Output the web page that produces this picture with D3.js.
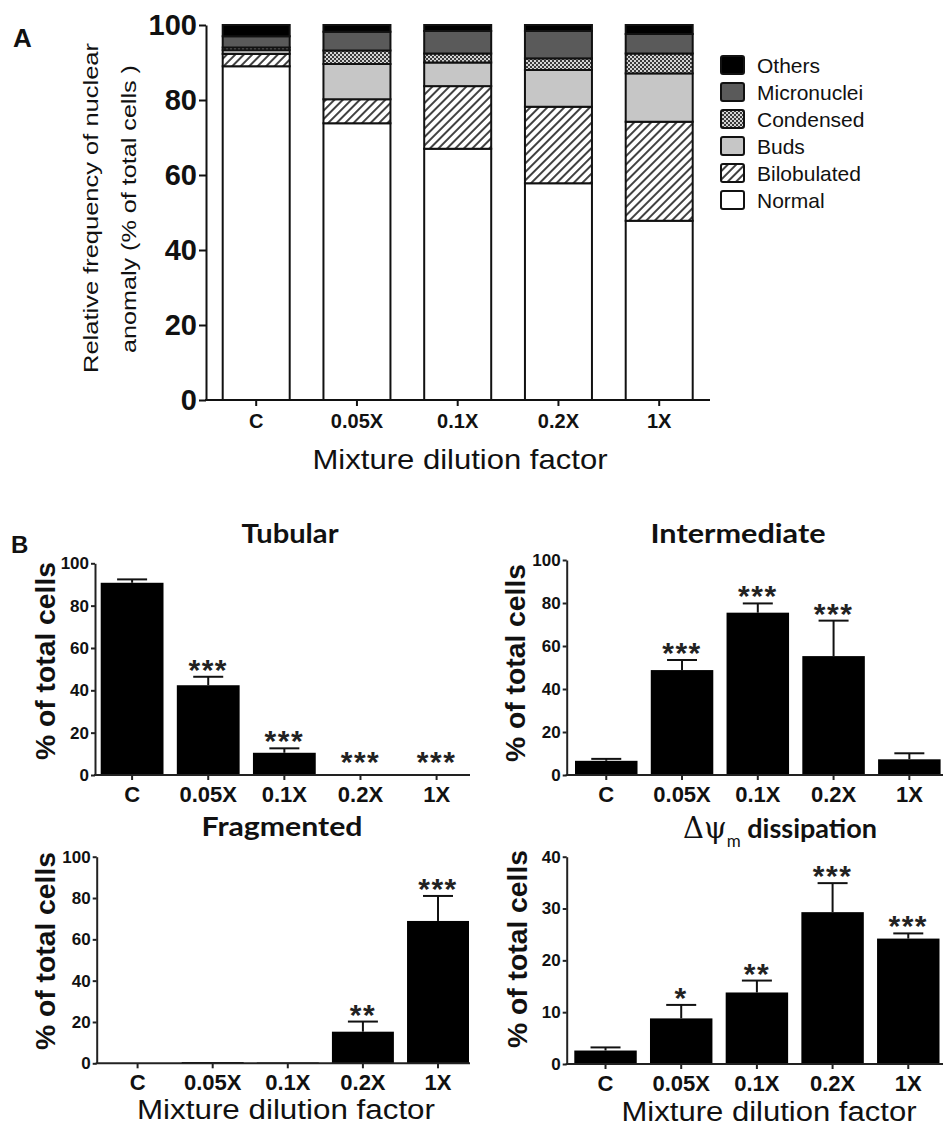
<!DOCTYPE html>
<html><head><meta charset="utf-8">
<script src="https://cdn.jsdelivr.net/npm/d3@7"></script>
<style>body{margin:0;background:#fff} svg{display:block}</style>
</head><body>
<svg id="chart" width="943" height="1128"></svg>
<script>
// ---------- Data ----------
const categories = ["C", "0.05X", "0.1X", "0.2X", "1X"];
const anomalyTypes = ["Normal", "Bilobulated", "Buds", "Condensed", "Micronuclei", "Others"];
const normal      = [89.0, 73.8, 67.0, 57.8, 47.8];
const bilobulated = [3.3, 6.4, 16.7, 20.4, 26.4];
const buds        = [1.0, 9.4, 6.3, 9.8, 12.9];
const condensed   = [0.7, 3.6, 2.4, 3.1, 5.3];
const micronuclei = [3.0, 5.0, 6.0, 7.3, 5.2];
const others      = [3.0, 1.8, 1.6, 1.6, 2.4];
const ticksA = [0, 20, 40, 60, 80, 100];

const tubularMean = [90.8, 42.4, 10.5, 0, 0];
const tubularErr  = [1.6, 4.0, 2.1, 0, 0];
const tubularSig  = ["", "***", "***", "***", "***"];
const intermediateMean = [6.6, 48.8, 75.5, 55.3, 7.3];
const intermediateErr  = [0.9, 4.7, 4.3, 16.5, 2.8];
const intermediateSig  = ["", "***", "***", "***", ""];
const fragmentedMean = [0, 0.6, 0.4, 15.3, 68.9];
const fragmentedErr  = [0, 0.2, 0.1, 4.9, 12.1];
const fragmentedSig  = ["", "", "", "**", "***"];
const dissipationMean = [2.6, 8.8, 13.8, 29.3, 24.2];
const dissipationErr  = [0.6, 2.6, 2.3, 5.6, 1.0];
const dissipationSig  = ["", "*", "**", "***", "***"];
const ticksPercent = [0, 20, 40, 60, 80, 100];
const ticksDissipation = [0, 10, 20, 30, 40];

// ---------- Setup ----------
const svg = d3.select("#chart");
const defs = svg.append("defs");
const hatch = defs.append("pattern").attr("id", "hatch")
  .attr("patternUnits", "userSpaceOnUse").attr("width", 6).attr("height", 6)
  .attr("patternTransform", "rotate(45)");
hatch.append("rect").attr("width", 6).attr("height", 6).attr("fill", "#fff");
hatch.append("line").attr("x1", 1).attr("y1", 0).attr("x2", 1).attr("y2", 6)
  .attr("stroke", "#111").attr("stroke-width", 1.6);
const check = defs.append("pattern").attr("id", "check")
  .attr("patternUnits", "userSpaceOnUse").attr("width", 4).attr("height", 4);
check.append("rect").attr("width", 4).attr("height", 4).attr("fill", "#d4d4d4");
check.append("rect").attr("width", 2).attr("height", 2).attr("fill", "#3a3a3a");
check.append("rect").attr("x", 2).attr("y", 2).attr("width", 2).attr("height", 2).attr("fill", "#3a3a3a");

const fills = {
  Normal: "#ffffff", Bilobulated: "url(#hatch)", Buds: "#c6c6c6",
  Condensed: "url(#check)", Micronuclei: "#5a5a5a", Others: "#000000"
};
const seriesByType = {
  Normal: normal, Bilobulated: bilobulated, Buds: buds,
  Condensed: condensed, Micronuclei: micronuclei, Others: others
};

// ---------- Panel A ----------
const rowsA = categories.map((c, i) => {
  const r = { cat: c };
  anomalyTypes.forEach(k => r[k] = seriesByType[k][i]);
  return r;
});
const stacked = d3.stack().keys(anomalyTypes)(rowsA);
const xA = d3.scaleBand().domain(categories).range([222.7, 692.7]).paddingInner(0.335).paddingOuter(0);
const yA = d3.scaleLinear().domain([0, 100]).range([400, 25]);
const gA = svg.append("g");

stacked.forEach(layer => {
  gA.append("g").selectAll("rect").data(layer).join("rect")
    .attr("x", d => xA(d.data.cat))
    .attr("y", d => yA(d[1]))
    .attr("width", xA.bandwidth())
    .attr("height", d => yA(d[0]) - yA(d[1]))
    .attr("fill", fills[layer.key])
    .attr("stroke", "#111").attr("stroke-width", 2);
});

const yAxisA = gA.append("g").attr("transform", "translate(206,0)")
  .call(d3.axisLeft(yA).tickValues(ticksA).tickSize(7).tickPadding(2).tickSizeOuter(0));
yAxisA.selectAll("path,line").attr("stroke", "#111").attr("stroke-width", 2);
yAxisA.selectAll("text").attr("font-family", "Arial, 'Liberation Sans', sans-serif")
  .attr("font-weight", "bold").attr("font-size", 29).attr("fill", "#111");

const xAxisA = gA.append("g").attr("transform", "translate(0,400)")
  .call(d3.axisBottom(xA).tickSize(6).tickPadding(8).tickSizeOuter(0));
xAxisA.select(".domain").remove();
xAxisA.selectAll("line").attr("stroke", "#111").attr("stroke-width", 2);
xAxisA.selectAll("text").attr("font-family", "Arial, 'Liberation Sans', sans-serif")
  .attr("font-weight", "bold").attr("font-size", 20).attr("fill", "#111");
gA.append("line").attr("x1", 205).attr("x2", 710).attr("y1", 400).attr("y2", 400)
  .attr("stroke", "#111").attr("stroke-width", 2);

gA.append("text").attr("x", 460).attr("y", 469).attr("text-anchor", "middle")
  .attr("font-family", "Arial, 'Liberation Sans', sans-serif").attr("font-size", 28)
  .attr("textLength", 295).attr("lengthAdjust", "spacingAndGlyphs").attr("fill", "#111")
  .text("Mixture dilution factor");

const yt = gA.append("g").attr("font-family", "Arial, 'Liberation Sans', sans-serif")
  .attr("font-size", 20).attr("fill", "#111").attr("text-anchor", "middle");
yt.append("text").attr("transform", "translate(98,208) rotate(-90)")
  .attr("textLength", 330).attr("lengthAdjust", "spacingAndGlyphs")
  .text("Relative frequency of nuclear");
yt.append("text").attr("transform", "translate(136,209) rotate(-90)")
  .attr("textLength", 288).attr("lengthAdjust", "spacingAndGlyphs")
  .text("anomaly (% of total cells )");

svg.append("text").attr("x", 13).attr("y", 47).attr("font-family", "Arial, 'Liberation Sans', sans-serif")
  .attr("font-weight", "bold").attr("font-size", 26).attr("fill", "#111").text("A");

// legend
const legendKeys = anomalyTypes.slice().reverse();
const leg = svg.append("g");
legendKeys.forEach((k, i) => {
  const cy = 65 + i * 27;
  leg.append("rect").attr("x", 721).attr("y", cy - 9).attr("width", 23).attr("height", 18)
    .attr("rx", 2).attr("fill", fills[k]).attr("stroke", "#111").attr("stroke-width", 2);
  leg.append("text").attr("x", 757).attr("y", cy + 7.5)
    .attr("font-family", "Arial, 'Liberation Sans', sans-serif").attr("font-size", 21)
    .attr("fill", "#111").text(k);
});

// ---------- Panel B ----------
svg.append("text").attr("x", 11).attr("y", 553).attr("font-family", "Arial, 'Liberation Sans', sans-serif")
  .attr("font-weight", "bold").attr("font-size", 24).attr("fill", "#111").text("B");

const panels = [
  { mean: tubularMean, err: tubularErr, sig: tubularSig, ticks: ticksPercent, max: 100,
    axisX: 95, axisEnd: 470, bandRange: [100.7, 468], y0: 775, yMax: 563.3,
    title: "Tubular", titleX: 290, titleY: 543, titleW: 97,
    yTitleX: 55, yTitleY: 661, xTitle: null },
  { mean: intermediateMean, err: intermediateErr, sig: intermediateSig, ticks: ticksPercent, max: 100,
    axisX: 566.7, axisEnd: 943, bandRange: [575, 940.6], y0: 775, yMax: 560,
    title: "Intermediate", titleX: 738, titleY: 543, titleW: 175,
    yTitleX: 525, yTitleY: 663, xTitle: null },
  { mean: fragmentedMean, err: fragmentedErr, sig: fragmentedSig, ticks: ticksPercent, max: 100,
    axisX: 96.7, axisEnd: 470, bandRange: [106.6, 469], y0: 1063.3, yMax: 856.7,
    title: "Fragmented", titleX: 282, titleY: 836, titleW: 161,
    yTitleX: 55, yTitleY: 951, xTitle: { x: 286, y: 1119, w: 298 } },
  { mean: dissipationMean, err: dissipationErr, sig: dissipationSig, ticks: ticksDissipation, max: 40,
    axisX: 566.7, axisEnd: 943, bandRange: [574.3, 939.5], y0: 1064, yMax: 856.7,
    title: null, titleX: 780, titleY: 838, titleW: 210,
    yTitleX: 527, yTitleY: 949, xTitle: { x: 769, y: 1121, w: 295 } }
];

const FONT = "Arial, 'Liberation Sans', sans-serif";
panels.forEach(p => {
  const g = svg.append("g");
  const x = d3.scaleBand().domain(categories).range(p.bandRange).paddingInner(0.175).paddingOuter(0);
  const y = d3.scaleLinear().domain([0, p.max]).range([p.y0, p.yMax]);
  const rows = categories.map((c, i) => ({ cat: c, mean: p.mean[i], err: p.err[i], sig: p.sig[i] }));

  g.append("g").selectAll("rect").data(rows).join("rect")
    .attr("x", d => x(d.cat)).attr("y", d => y(d.mean))
    .attr("width", x.bandwidth()).attr("height", d => y(0) - y(d.mean))
    .attr("fill", "#000");

  const eb = g.append("g").attr("stroke", "#111").attr("stroke-width", 2);
  rows.filter(d => d.err > 0.5).forEach(d => {
    const cx = x(d.cat) + x.bandwidth() / 2;
    eb.append("line").attr("x1", cx).attr("x2", cx).attr("y1", y(d.mean)).attr("y2", y(d.mean + d.err));
    eb.append("line").attr("x1", cx - 15).attr("x2", cx + 15).attr("y1", y(d.mean + d.err)).attr("y2", y(d.mean + d.err));
  });

  g.append("g").selectAll("text").data(rows.filter(d => d.sig)).join("text")
    .attr("x", d => x(d.cat) + x.bandwidth() / 2)
    .attr("y", d => Math.min(y(d.mean + d.err) + 3, y(0) - 3))
    .attr("text-anchor", "middle").attr("font-family", FONT).attr("font-weight", "bold")
    .attr("font-size", 30).attr("letter-spacing", 1.5).attr("fill", "#222")
    .text(d => d.sig);

  const ya = g.append("g").attr("transform", `translate(${p.axisX},0)`)
    .call(d3.axisLeft(y).tickValues(p.ticks).tickSize(4).tickPadding(2).tickSizeOuter(0));
  ya.selectAll("path,line").attr("stroke", "#222").attr("stroke-width", 2);
  ya.selectAll("text").attr("font-family", FONT).attr("font-weight", "bold")
    .attr("font-size", 17).attr("fill", "#111");

  const xa = g.append("g").attr("transform", `translate(0,${p.y0})`)
    .call(d3.axisBottom(x).tickSize(5).tickPadding(6).tickSizeOuter(0));
  xa.select(".domain").remove();
  xa.selectAll("line").attr("stroke", "#222").attr("stroke-width", 2);
  xa.selectAll("text").attr("font-family", FONT).attr("font-weight", "bold")
    .attr("font-size", 22).attr("fill", "#111");
  g.append("line").attr("x1", p.axisX - 1).attr("x2", p.axisEnd).attr("y1", p.y0).attr("y2", p.y0)
    .attr("stroke", "#222").attr("stroke-width", 2);

  g.append("text").attr("transform", `translate(${p.yTitleX},${p.yTitleY}) rotate(-90)`)
    .attr("text-anchor", "middle").attr("font-family", FONT).attr("font-weight", "bold")
    .attr("font-size", 27).attr("textLength", 198).attr("lengthAdjust", "spacingAndGlyphs")
    .attr("fill", "#111").text("% of total cells");

  if (p.title) {
    g.append("text").attr("x", p.titleX).attr("y", p.titleY).attr("text-anchor", "middle")
      .attr("font-family", "Lato, 'Open Sans', sans-serif").attr("font-weight", "bold")
      .attr("font-size", 26).attr("textLength", p.titleW).attr("lengthAdjust", "spacingAndGlyphs")
      .attr("fill", "#111").text(p.title);
  } else {
    const t = g.append("text").attr("x", p.titleX).attr("y", p.titleY).attr("text-anchor", "middle")
      .attr("font-family", "Lato, 'Open Sans', sans-serif").attr("font-weight", "bold")
      .attr("font-size", 27).attr("fill", "#111");
    t.append("tspan").attr("font-family", "'DejaVu Serif', serif").attr("font-weight", "normal")
      .attr("font-size", 29).text("Δψ");
    t.append("tspan").attr("font-size", 17).attr("font-weight", "normal").attr("dy", 9).text("m");
    t.append("tspan").attr("dy", -9).text(" dissipation");
  }

  if (p.xTitle) {
    g.append("text").attr("x", p.xTitle.x).attr("y", p.xTitle.y).attr("text-anchor", "middle")
      .attr("font-family", FONT).attr("font-size", 27)
      .attr("textLength", p.xTitle.w).attr("lengthAdjust", "spacingAndGlyphs")
      .attr("fill", "#111").text("Mixture dilution factor");
  }
});
</script>
</body></html>
